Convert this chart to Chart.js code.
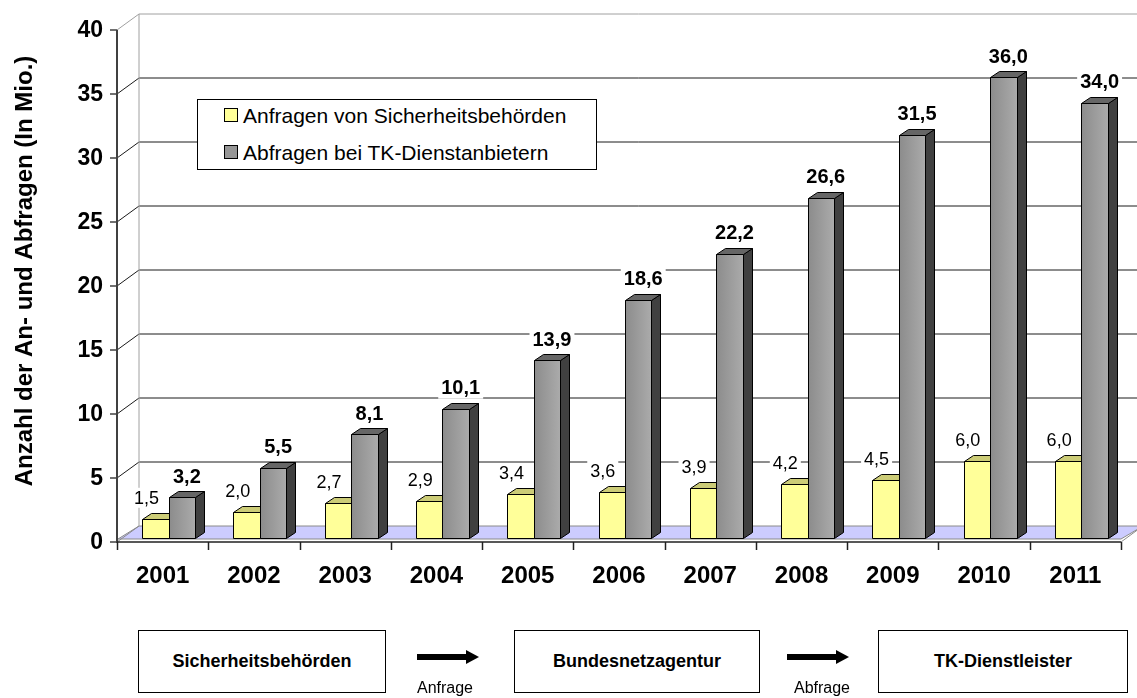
<!DOCTYPE html>
<html lang="de">
<head>
<meta charset="utf-8">
<title>Anfragen und Abfragen 2001-2011</title>
<script src="https://cdn.jsdelivr.net/npm/chart.js@4.4.1/dist/chart.umd.min.js"></script>
<style>
  html, body { margin: 0; padding: 0; background: #fff; }
  body { width: 1137px; height: 698px; position: relative; overflow: hidden;
         font-family: "Liberation Sans", Arial, sans-serif; }
  #chart { position: absolute; left: 0; top: 0; }
  .legend { position: absolute; left: 197px; top: 99px; width: 398px; height: 69px;
            border: 1px solid #000; background: #fff; }
  .legend .item { position: absolute; left: 26px; font-size: 21px; color: #000; line-height: 24px; white-space: nowrap; }
  .legend .sw { display: inline-block; width: 12px; height: 12px; border: 1px solid #000;
                margin-right: 5px; vertical-align: 1px; }
  .box { position: absolute; top: 630px; height: 61px; border: 1px solid #000; background: #fff;
         display: flex; align-items: center; justify-content: center;
         font-weight: bold; font-size: 18px; }
  .arrow { position: absolute; top: 650px; height: 14px; }
  .arrow .shaft { position: absolute; left: 0; top: 4px; height: 6px; background: #000; }
  .arrow .head { position: absolute; top: 0; width: 0; height: 0;
                 border-top: 7px solid transparent; border-bottom: 7px solid transparent; border-left: 13px solid #000; }
  .step { position: absolute; top: 679px; font-size: 16px; transform: translateX(-50%); }
</style>
</head>
<body>
<canvas id="chart" width="1137" height="698"></canvas>

<div class="legend">
  <div class="item" style="top:4px"><span class="sw" style="background:#ffff99"></span>Anfragen von Sicherheitsbehörden</div>
  <div class="item" style="top:41px"><span class="sw" style="background:#969696"></span>Abfragen bei TK-Dienstanbietern</div>
</div>

<div class="box" style="left:138px; width:246px">Sicherheitsbehörden</div>
<div class="arrow" style="left:417px; width:62px"><div class="shaft" style="width:50px"></div><div class="head" style="left:49px"></div></div>
<div class="step" style="left:445px">Anfrage</div>
<div class="box" style="left:514px; width:244px">Bundesnetzagentur</div>
<div class="arrow" style="left:787px; width:62px"><div class="shaft" style="width:50px"></div><div class="head" style="left:49px"></div></div>
<div class="step" style="left:822px">Abfrage</div>
<div class="box" style="left:878px; width:248px">TK-Dienstleister</div>

<script>
// Daten
const years = ["2001", "2002", "2003", "2004", "2005", "2006", "2007", "2008", "2009", "2010", "2011"];
const anfragen = [1.5, 2.0, 2.7, 2.9, 3.4, 3.6, 3.9, 4.2, 4.5, 6.0, 6.0];
const abfragen = [3.2, 5.5, 8.1, 10.1, 13.9, 18.6, 22.2, 26.6, 31.5, 36.0, 34.0];
const yTicks = [0, 5, 10, 15, 20, 25, 30, 35, 40];

const FONT = '"Liberation Sans", Arial, sans-serif';
const fmt = (v) => v.toFixed(1).replace(".", ",");

// Versatz der Ebenen relativ zur Balkenebene (chartArea)
const FRONT = { dx: -6, dy: 4 };
const BACK = { dx: 16, dy: -12 };
const DEPTH = { dx: 9, dy: -6 };

const COLORS = [
  { front: "#ffff99", side: "#999966", top: "#cccc77" },
  { front: null, side: "#404040", top: "#666666" },
];

function line(ctx, x1, y1, x2, y2, color, w) {
  ctx.strokeStyle = color;
  ctx.lineWidth = w || 1;
  ctx.beginPath();
  ctx.moveTo(x1, y1);
  ctx.lineTo(x2, y2);
  ctx.stroke();
}

function poly(ctx, pts, fill) {
  ctx.beginPath();
  ctx.moveTo(pts[0][0], pts[0][1]);
  for (let i = 1; i < pts.length; i++) ctx.lineTo(pts[i][0], pts[i][1]);
  ctx.closePath();
  ctx.fillStyle = fill;
  ctx.fill();
  ctx.strokeStyle = "#000";
  ctx.lineWidth = 1;
  ctx.stroke();
}

function drawFrame(chart) {
  const ctx = chart.ctx;
  const { left, right } = chart.chartArea;
  const ys = chart.scales.y, xs = chart.scales.x;
  const y0 = ys.getPixelForValue(0);
  const yTop = ys.getPixelForValue(yTicks[yTicks.length - 1]);
  const fl = left + FRONT.dx, fr = right + FRONT.dx;
  const bl = left + BACK.dx, br = right + BACK.dx;

  // Boden
  ctx.save();
  ctx.beginPath();
  ctx.moveTo(fl + 1, y0 + 1);
  ctx.lineTo(fr, y0 + 1);
  ctx.lineTo(br, y0 + BACK.dy);
  ctx.lineTo(bl, y0 + BACK.dy);
  ctx.closePath();
  ctx.fillStyle = "#ccccff";
  ctx.fill();
  ctx.strokeStyle = "#8a8a8a";
  ctx.stroke();

  // Gitterlinien Rückwand + Seitenwand
  yTicks.forEach((v) => {
    const py = ys.getPixelForValue(v);
    const c = v === yTicks[yTicks.length - 1] ? "#a0a0a0" : "#1a1a1a";
    if (v !== 0) line(ctx, bl, py + BACK.dy, br + 20, py + BACK.dy, c);
    line(ctx, fl, py + FRONT.dy, bl, py + BACK.dy, v === 0 ? "#8a8a8a" : c);
  });
  line(ctx, bl, yTop + BACK.dy, bl, y0 + BACK.dy, "#a0a0a0");

  // Y-Achse
  line(ctx, fl, yTop + FRONT.dy, fl, y0 + FRONT.dy + 1, "#404040", 2);
  ctx.fillStyle = "#000";
  ctx.font = "bold 23px " + FONT;
  ctx.textAlign = "right";
  ctx.textBaseline = "middle";
  yTicks.forEach((v) => {
    const py = ys.getPixelForValue(v) + FRONT.dy;
    line(ctx, fl - 7, py, fl, py, "#404040", 1.5);
    ctx.fillText(String(v), fl - 14, py + 1);
  });

  // X-Achse
  const half = (xs.getPixelForValue(1) - xs.getPixelForValue(0)) / 2;
  line(ctx, fl, y0 + FRONT.dy, fr, y0 + FRONT.dy, "#202020", 1.5);
  line(ctx, fr, y0 + FRONT.dy, br + 4, y0 + BACK.dy - 3, "#8a8a8a");
  for (let i = 0; i <= years.length; i++) {
    const px = Math.round(xs.getPixelForValue(i) - half + FRONT.dx) + 0.5;
    line(ctx, px, y0 + FRONT.dy, px, y0 + FRONT.dy + 8, "#202020", 1.5);
  }
  ctx.font = "bold 24px " + FONT;
  ctx.textAlign = "center";
  ctx.fillStyle = "#000";
  years.forEach((yr, i) => {
    ctx.fillText(yr, xs.getPixelForValue(i) + FRONT.dx, 576);
  });

  // Achsentitel
  ctx.translate(25, 271);
  ctx.rotate(-Math.PI / 2);
  ctx.font = "bold 24px " + FONT;
  ctx.fillText("Anzahl der An- und Abfragen (In Mio.)", 0, 0);
  ctx.restore();
}

function drawBars(chart) {
  const ctx = chart.ctx;
  ctx.save();
  for (let i = 0; i < years.length; i++) {
    [0, 1].forEach((ds) => {
      const el = chart.getDatasetMeta(ds).data[i];
      const l = Math.round(el.x - el.width / 2) + 0.5;
      const r = Math.round(el.x + el.width / 2) + 0.5;
      const t = Math.round(el.y) + 0.5;
      const b = Math.round(el.base) + 0.5;
      const c = COLORS[ds];
      poly(ctx, [[r, t], [r + DEPTH.dx, t + DEPTH.dy], [r + DEPTH.dx, b + DEPTH.dy], [r, b]], c.side);
      poly(ctx, [[l, t], [l + DEPTH.dx, t + DEPTH.dy], [r + DEPTH.dx, t + DEPTH.dy], [r, t]], c.top);
      let fill = c.front;
      if (!fill) {
        fill = ctx.createLinearGradient(l, 0, r, 0);
        fill.addColorStop(0, "#8c8c8c");
        fill.addColorStop(1, "#ababab");
      }
      poly(ctx, [[l, t], [r, t], [r, b], [l, b]], fill);
    });
  }

  // Datenbeschriftungen
  ctx.textAlign = "center";
  ctx.textBaseline = "middle";
  const labelSets = [
    { values: anfragen, font: "18px " + FONT, size: 18, dx: -9, dy: -21 },
    { values: abfragen, font: "bold 20px " + FONT, size: 20, dx: 5, dy: -21 },
  ];
  labelSets.forEach((set, ds) => {
    ctx.font = set.font;
    chart.getDatasetMeta(ds).data.forEach((el, i) => {
      const txt = fmt(set.values[i]);
      const cx = el.x + set.dx, cy = el.y + set.dy;
      const w = ctx.measureText(txt).width + 6;
      ctx.fillStyle = "#fff";
      ctx.fillRect(cx - w / 2, cy - set.size / 2 - 1, w, set.size + 2);
      ctx.fillStyle = "#000";
      ctx.fillText(txt, cx, cy + 1);
    });
  });
  ctx.restore();
}

const bars3d = {
  id: "bars3d",
  beforeDatasetsDraw(chart) {
    drawFrame(chart);
    drawBars(chart);
    return false;
  },
};

new Chart(document.getElementById("chart"), {
  type: "bar",
  data: {
    labels: years,
    datasets: [
      { label: "Anfragen von Sicherheitsbehörden", data: anfragen, backgroundColor: "#ffff99" },
      { label: "Abfragen bei TK-Dienstanbietern", data: abfragen, backgroundColor: "#969696" },
    ],
  },
  options: {
    responsive: false,
    devicePixelRatio: 1,
    animation: false,
    layout: { padding: { left: 123, right: 10, top: 26, bottom: 160 } },
    datasets: { bar: { categoryPercentage: 0.58, barPercentage: 1.0 } },
    scales: {
      x: { display: false },
      y: { display: false, min: 0, max: 40 },
    },
    plugins: { legend: { display: false }, tooltip: { enabled: false } },
  },
  plugins: [bars3d],
});
</script>
</body>
</html>
